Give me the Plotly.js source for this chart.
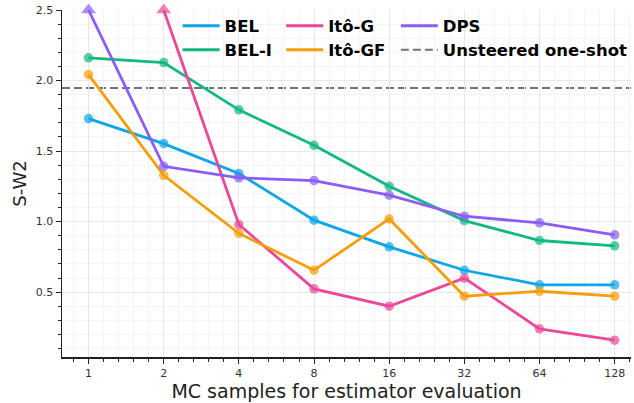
<!DOCTYPE html>
<html>
<head>
<meta charset="utf-8">
<script src="https://cdn.plot.ly/plotly-3.0.1.min.js"></script>
<style>html,body{margin:0;padding:0;background:#fff;}#chart{width:634px;height:403px;}</style>
</head>
<body>
<div id="chart"></div>
<script>
// MC samples for estimator evaluation
const samples = [1, 2, 4, 8, 16, 32, 64, 128];
// S-W2 per method (values at the 2.5 ceiling are clipped, drawn as triangles)
const bel   = [1.73, 1.553, 1.341, 1.010, 0.821, 0.655, 0.552, 0.552];
const belI  = [2.161, 2.127, 1.792, 1.541, 1.250, 1.007, 0.866, 0.828];
const itoG  = [null, 2.5, 0.979, 0.523, 0.400, 0.599, 0.240, 0.159];
const itoGF = [2.042, 1.328, 0.917, 0.655, 1.019, 0.471, 0.506, 0.471];
const dps   = [2.5, 1.392, 1.310, 1.291, 1.187, 1.038, 0.991, 0.906];
const unsteeredOneShot = 1.947;
const yClip = 2.5;
const seriesNames = ["BEL", "BEL-I", "Itô-G", "Itô-GF", "DPS"];
const seriesValues = [bel, belI, itoG, itoGF, dps];
const colors = ["#0ea5e9", "#10b981", "#ec4899", "#f59e0b", "#8b5cf6"];
const dashColor = "#6b7280";

const xs = samples.map(s => Math.log2(s));
const traces = [];
seriesValues.forEach((vals, i) => {
  traces.push({
    x: xs, y: vals, type: "scatter", mode: "lines+markers",
    name: seriesNames[i], showlegend: false, cliponaxis: false,
    line: {color: colors[i], width: 2.8},
    marker: {
      color: colors[i],
      symbol: vals.map(v => (v !== null && v >= yClip) ? "triangle-up" : "circle"),
      size: vals.map(v => (v !== null && v >= yClip) ? 13 : 9.5),
      line: {width: 0}
    }
  });
});
// legend entries (lines only)
const legendKeys = ["legend", "legend4", "legend2", "legend5", "legend3"];
seriesNames.forEach((n, i) => {
  traces.push({x: [null], y: [null], type: "scatter", mode: "lines", name: n,
    line: {color: colors[i], width: 3}, legend: legendKeys[i], showlegend: true, hoverinfo: "skip"});
});
traces.push({x: [null], y: [null], type: "scatter", mode: "lines", name: "Unsteered one-shot",
  line: {color: dashColor, width: 2, dash: "8px,4px"}, legend: "legend6", showlegend: true});

const L = 62, R = 1, T = 10, B = 46, W = 634, H = 403;
const pw = W - L - R, ph = H - T - B;
const px = v => (v - L) / pw;
const py = v => (H - B - v) / ph;
const legFont = {family: "DejaVu Sans", size: 16.5, color: "#000", weight: "bold"};
function leg(xpix, ypix) {
  return {x: px(xpix), y: py(ypix), xanchor: "left", yanchor: "middle",
    bgcolor: "rgba(0,0,0,0)", borderwidth: 0, font: legFont, itemwidth: 37};
}

const layout = {
  width: W, height: H,
  margin: {l: L, r: R, t: T, b: B, pad: 0},
  paper_bgcolor: "#fff", plot_bgcolor: "#fff",
  font: {family: "DejaVu Sans", size: 11, color: "#333"},
  showlegend: true,
  legend: leg(178, 26),
  legend4: leg(178, 50),
  legend2: leg(282, 26),
  legend5: leg(282, 50),
  legend3: leg(397, 26),
  legend6: leg(397, 50),
  xaxis: {
    range: [-0.353, 7.217],
    tickvals: xs, ticktext: samples.map(String),
    ticks: "outside", ticklen: 5, tickwidth: 1, tickcolor: "#222",
    showline: true, linecolor: "#222", linewidth: 1.5,
    showgrid: true, gridcolor: "#e5e7eb", gridwidth: 1, zeroline: false,
    minor: {dtick: 0.2, tick0: 0, ticks: "outside", ticklen: 3, tickcolor: "#222",
      showgrid: true, gridcolor: "#f4f5f7", gridwidth: 1},
    tickfont: {size: 11, color: "#333"},
    title: {text: "MC samples for estimator evaluation", font: {size: 19, color: "#222"}, standoff: 6}
  },
  yaxis: {
    range: [0.04, 2.5],
    dtick: 0.5, tick0: 0, tickformat: ".1f",
    ticks: "outside", ticklen: 5, tickwidth: 1, tickcolor: "#222",
    showline: true, linecolor: "#222", linewidth: 1.5,
    showgrid: true, gridcolor: "#e5e7eb", gridwidth: 1, zeroline: false,
    minor: {dtick: 0.1, tick0: 0, ticks: "outside", ticklen: 3, tickcolor: "#222",
      showgrid: true, gridcolor: "#f4f5f7", gridwidth: 1},
    tickfont: {size: 11, color: "#333"},
    title: {text: "S-W2", font: {size: 18, color: "#222"}, standoff: 4}
  },
  shapes: [{type: "line", xref: "paper", x0: 0, x1: 1, yref: "y",
    y0: unsteeredOneShot, y1: unsteeredOneShot, layer: "below",
    line: {color: dashColor, width: 2, dash: "8px,4px"}}]
};

Plotly.newPlot("chart", traces, layout, {staticPlot: true, displayModeBar: false});
</script>
</body>
</html>
